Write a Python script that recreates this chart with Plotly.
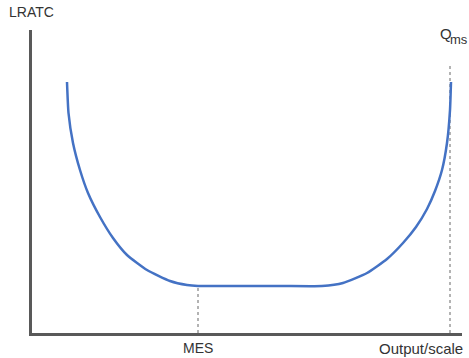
import plotly.graph_objects as go

# LRATC curve (output, cost) in arbitrary units
curve_x = [35, 36.5, 41, 48, 56, 68, 81, 95, 115, 138, 155, 166, 210, 250, 290, 311, 335, 355, 371, 384, 395, 403, 410, 415, 418, 419]
curve_y = [251, 220, 190, 163, 140, 116, 95, 78, 63, 52, 48, 47, 47, 47, 47, 50, 60, 74, 90, 106, 124, 142, 163, 190, 223, 251]

mes_x = 166
mes_y = 47
qms_x = 418
qms_top = 270

fig = go.Figure()
fig.add_trace(go.Scatter(x=[mes_x, mes_x], y=[0, mes_y], mode="lines",
                         line=dict(color="#9a9a9a", width=1.5, dash="dot"), hoverinfo="skip"))
fig.add_trace(go.Scatter(x=[qms_x, qms_x], y=[0, qms_top], mode="lines",
                         line=dict(color="#9a9a9a", width=1.5, dash="dot"), hoverinfo="skip"))
fig.add_trace(go.Scatter(x=curve_x, y=curve_y, mode="lines",
                         line=dict(color="#4472C4", width=2.5, shape="spline", smoothing=0.5),
                         hoverinfo="skip"))

fam = "Liberation Sans, Arial, sans-serif"
font = dict(family=fam, size=14, color="#333333")
fig.add_annotation(x=-0.002, y=1.059, text="LRATC", showarrow=False, font=font,
                   xref="paper", yref="paper", xanchor="center", yanchor="middle")
fig.add_annotation(x=mes_x, y=-0.05, text="MES", showarrow=False, font=font,
                   xref="x", yref="paper", xanchor="center", yanchor="middle")
fig.add_annotation(x=1.007, y=-0.05, text="Output/scale", showarrow=False,
                   font=dict(family=fam, size=15, color="#333333"),
                   xref="paper", yref="paper", xanchor="right", yanchor="middle")
fig.add_annotation(x=0.963, y=0.988, text="Q", showarrow=False,
                   font=dict(family=fam, size=15, color="#333333"),
                   xref="paper", yref="paper", xanchor="center", yanchor="middle")
fig.add_annotation(x=0.968, y=0.968, text="ms", showarrow=False,
                   font=dict(family=fam, size=13, color="#333333"),
                   xref="paper", yref="paper", xanchor="left", yanchor="middle")

fig.update_layout(
    width=469, height=358,
    margin=dict(l=32, r=7, t=30, b=25),
    paper_bgcolor="white", plot_bgcolor="white",
    showlegend=False,
    xaxis=dict(range=[0, 430], showgrid=False, zeroline=False, showticklabels=False,
               ticks="", showline=True, linecolor="#595959", linewidth=2.5),
    yaxis=dict(range=[0, 303], showgrid=False, zeroline=False, showticklabels=False,
               ticks="", showline=True, linecolor="#595959", linewidth=2.5),
)

fig.write_html("out.html", config={"displayModeBar": False},
               post_script="document.body.style.margin='0';")
